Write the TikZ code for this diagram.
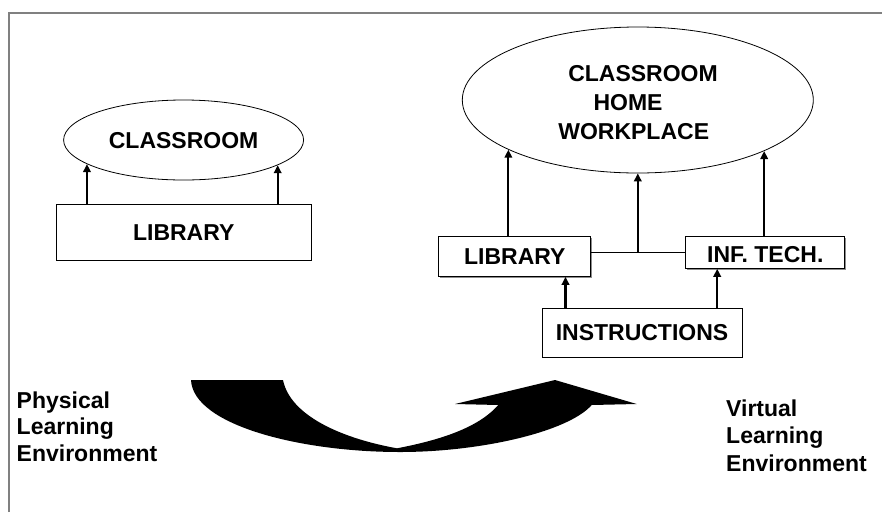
\documentclass[tikz,border=0pt]{standalone}
\usepackage{fontspec}
\setmainfont{Liberation Sans}
\usetikzlibrary{arrows.meta,shadows,shapes.geometric,calc}
\begin{document}
\begin{tikzpicture}[x=1pt,y=-1pt,
  lbl/.style={font=\fontsize{23}{27}\selectfont\bfseries, inner sep=0pt},
  boxnode/.style={draw, line width=1pt, fill=white, inner sep=0pt,
     font=\fontsize{23}{27}\selectfont\bfseries, text height=16.5pt, text depth=0pt,
     general shadow={shadow xshift=1.2pt, shadow yshift=-1.2pt, fill=black!45}},
  ellnode/.style={draw, ellipse, line width=0.8pt, inner sep=0pt},
  arr/.style={line width=2.2pt, -{Triangle[length=8pt,width=7.5pt]}},
  conn/.style={line width=1pt}]
\useasboundingbox (0,0) rectangle (882,512);
% frame
\draw[line width=2pt, black!50] (8.7,512) -- (8.7,12.7) -- (882,12.7);

% left: physical
\node[ellnode, minimum width=240pt, minimum height=80pt,
      font=\fontsize{23}{27}\selectfont\bfseries, text height=16.5pt, text depth=0pt]
      (cls1) at (183.6,140) {CLASSROOM};
\node[boxnode, minimum width=254.5pt, minimum height=56pt] (lib1) at (183.75,232) {LIBRARY};
\draw[arr] (cls1.194.3 |- lib1.north) -- (cls1.194.3);
\draw[arr] (cls1.345.7 |- lib1.north) -- (cls1.345.7);

% right: virtual
\node[ellnode, minimum width=351pt, minimum height=146pt] (cls2) at (637.8,100) {};
\node[lbl, anchor=base] (t1) at (643,81) {CLASSROOM};
\node[lbl, anchor=base] (t2) at (628,110.7) {HOME};
\node[lbl, anchor=base] (t3) at (633.7,139.3) {WORKPLACE};

\node[boxnode, minimum width=151.7pt, minimum height=39.6pt] (lib2) at (514.8,256.5) {LIBRARY};
\node[boxnode, minimum width=159.3pt, minimum height=31.6pt, text height=19.5pt] (inf) at (765.3,252.5) {INF. TECH.};
\node[boxnode, minimum width=200pt, minimum height=49pt] (inst) at (642,332.5) {INSTRUCTIONS};

\draw[conn] (lib2.east |- inf.west) -- (inf.west);
\coordinate (mid) at (cls2.south |- inf.west);
\draw[arr] (mid) -- (cls2.south);
\draw[arr] (cls2.201.6 |- lib2.north) -- (cls2.201.6);
\draw[arr] (cls2.338.4 |- inf.north) -- (cls2.338.4);

\coordinate (ia) at ($(inst.north west)+(24,0)$);
\coordinate (ib) at ($(inst.north west)+(175.7,0)$);
\draw[arr] (ia) -- (ia |- lib2.south);
\draw[arr] (ib) -- (ib |- inf.south);

% big curved arrow
\fill[black] (191,380) -- (283,380)
  .. controls (290,415) and (340,438) .. (397,448.3)
  .. controls (440,440) and (478,428) .. (498.3,405)
  -- (455,404) -- (555,380) -- (636.7,404) -- (591.7,405)
  .. controls (568,432) and (480,452) .. (400,452)
  .. controls (300,452) and (193,425) .. (191,380) -- cycle;

% captions
\node[lbl, anchor=base west] (p1) at (16.5,408) {Physical};
\node[lbl, anchor=base west] (p2) at (16.5,434.5) {Learning};
\node[lbl, anchor=base west] (p3) at (16.5,461) {Environment};
\node[lbl, anchor=base west] (v1) at (726,416) {Virtual};
\node[lbl, anchor=base west] (v2) at (726,443.5) {Learning};
\node[lbl, anchor=base west] (v3) at (726,471.5) {Environment};
\end{tikzpicture}
\end{document}
